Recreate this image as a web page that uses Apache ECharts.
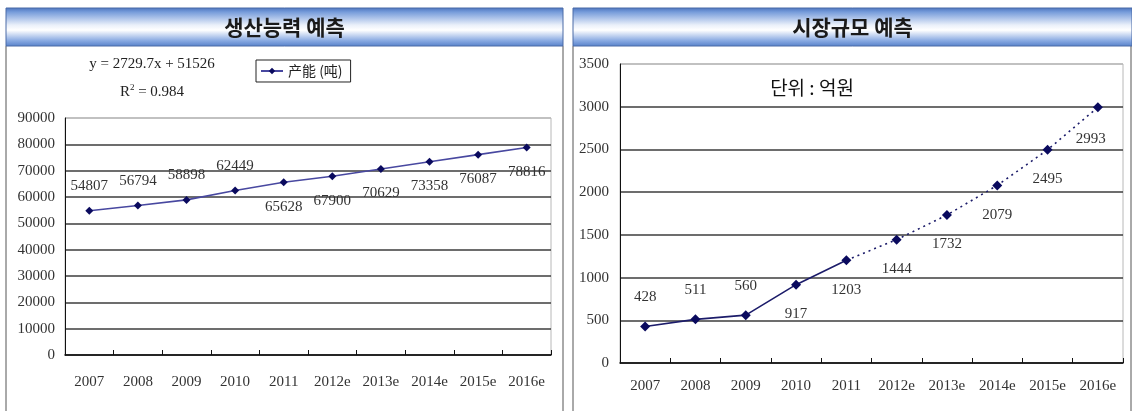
<!DOCTYPE html>
<html>
<head>
<meta charset="utf-8">
<script src="https://cdn.jsdelivr.net/npm/echarts@6/dist/echarts.min.js"></script>
<style>
  html, body { margin: 0; padding: 0; background: #ffffff; }
  #chart { width: 1132px; height: 411px; }
</style>
</head>
<body>
<div id="chart"></div>
<script>
// Years shown on both horizontal axes (e = estimate)
const years = ['2007', '2008', '2009', '2010', '2011', '2012e', '2013e', '2014e', '2015e', '2016e'];

// Production capacity (tons)
const capacityName = '产能 (吨)';
const capacityValues = [54807, 56794, 58898, 62449, 65628, 67900, 70629, 73358, 76087, 78816];

// Market size (100 million won)
const marketValues = [428, 511, 560, 917, 1203, 1444, 1732, 2079, 2495, 2993];
const marketActualCount = 5; // 2007–2011 are actual figures, the rest are forecasts

// Panel headings and notes
const leftTitle = '생산능력 예측';
const rightTitle = '시장규모 예측';
const trendEquation = 'y = 2729.7x + 51526';
const trendR2 = '0.984';
const unitNote = '단위 : 억원';

const numFont = '"Liberation Sans Narrow", "Liberation Serif", serif';
const krFont = '"Noto Sans CJK KR", "Noto Sans", sans-serif';

const chart = echarts.init(document.getElementById('chart'), null, { renderer: 'canvas' });

const headerGradient = new echarts.graphic.LinearGradient(0, 0, 0, 1, [
  { offset: 0, color: '#4a73be' },
  { offset: 0.12, color: '#789ddb' },
  { offset: 0.45, color: '#eaf0fa' },
  { offset: 0.58, color: '#ffffff' },
  { offset: 0.85, color: '#89aae2' },
  { offset: 1, color: '#5580c9' }
]);

function header(x, w, text) {
  return [
    {
      type: 'rect',
      shape: { x: x, y: 8, width: w, height: 38 },
      style: { fill: headerGradient, stroke: '#4a6aa6', lineWidth: 1 },
      z: 1
    },
    {
      type: 'text',
      x: x + w / 2,
      y: 27,
      style: {
        text: text, font: 'bold 21px ' + krFont, fill: '#1a1a1a',
        align: 'center', verticalAlign: 'middle'
      },
      z: 2
    }
  ];
}

function frame(x1, x2) {
  return [
    { type: 'line', shape: { x1: x1, y1: 46, x2: x1, y2: 411 }, style: { stroke: '#555', lineWidth: 1 } },
    { type: 'line', shape: { x1: x2, y1: 46, x2: x2, y2: 411 }, style: { stroke: '#555', lineWidth: 1 } }
  ];
}

function splitColors(n) {
  const arr = [];
  for (let i = 0; i < n; i++) arr.push('#3c3c3c');
  arr.push('#b8b8b8');
  return arr;
}

const plainNumber = function (v) { return String(v); };

const labelText = {
  fontFamily: numFont, fontSize: 15, color: '#333'
};

const option = {
  animation: false,
  backgroundColor: '#ffffff',
  textStyle: { fontFamily: numFont },
  grid: [
    { left: 65, top: 118, width: 486, height: 237, show: true, borderColor: '#b8b8b8', borderWidth: 1, backgroundColor: 'transparent' },
    { left: 620, top: 64, width: 503, height: 299, show: true, borderColor: '#b8b8b8', borderWidth: 1, backgroundColor: 'transparent' }
  ],
  legend: {
    data: [capacityName],
    left: 256,
    top: 60,
    padding: [4, 8, 4, 4],
    borderColor: '#222',
    borderWidth: 1,
    itemWidth: 22,
    itemHeight: 8,
    itemGap: 4,
    textStyle: { fontFamily: '"Noto Sans CJK SC", sans-serif', fontSize: 14, color: '#222' }
  },
  xAxis: [0, 1].map(function (g) {
    return {
      type: 'category',
      gridIndex: g,
      data: years,
      boundaryGap: true,
      axisLine: { lineStyle: { color: '#111', width: 1.5 } },
      axisTick: { show: true, inside: true, length: 5, lineStyle: { color: '#111' } },
      axisLabel: { fontFamily: numFont, fontSize: 15, color: '#333', margin: g === 0 ? 20 : 16 },
      splitLine: { show: false }
    };
  }),
  yAxis: [
    {
      type: 'value', gridIndex: 0, min: 0, max: 90000, interval: 10000,
      axisLine: { show: true, lineStyle: { color: '#111', width: 1 } },
      axisTick: { show: false },
      axisLabel: { fontFamily: numFont, fontSize: 15, color: '#333', margin: 10, formatter: plainNumber },
      splitLine: { lineStyle: { color: splitColors(9), width: 1.6 } }
    },
    {
      type: 'value', gridIndex: 1, min: 0, max: 3500, interval: 500,
      axisLine: { show: true, lineStyle: { color: '#111', width: 1 } },
      axisTick: { show: false },
      axisLabel: { fontFamily: numFont, fontSize: 15, color: '#333', margin: 11, formatter: plainNumber },
      splitLine: { lineStyle: { color: splitColors(7), width: 1.6 } }
    }
  ],
  series: [
    {
      name: capacityName,
      type: 'line',
      xAxisIndex: 0,
      yAxisIndex: 0,
      symbol: 'diamond',
      symbolSize: 8,
      lineStyle: { color: '#4848a0', width: 1.6 },
      itemStyle: { color: '#0a0a5e' },
      data: capacityValues.map(function (v, i) {
        return { value: v, label: { position: i < 4 ? 'top' : 'bottom' } };
      }),
      label: Object.assign({ show: true, distance: 13 }, labelText),
      z: 5
    },
    {
      name: '시장규모',
      type: 'line',
      xAxisIndex: 1,
      yAxisIndex: 1,
      symbol: 'diamond',
      symbolSize: 10,
      lineStyle: { color: '#1c1c6a', width: 1.6 },
      itemStyle: { color: '#0a0a5e' },
      data: marketValues.map(function (v, i) {
        return i < marketActualCount
          ? { value: v, label: { position: i < 3 ? 'top' : 'bottom' } }
          : null;
      }),
      label: Object.assign({ show: true, distance: 17 }, labelText),
      z: 5
    },
    {
      name: '시장규모 전망',
      type: 'line',
      xAxisIndex: 1,
      yAxisIndex: 1,
      symbol: 'diamond',
      symbolSize: 10,
      lineStyle: { color: '#1c1c6a', width: 1.6, type: [2, 4] },
      itemStyle: { color: '#0a0a5e' },
      data: marketValues.map(function (v, i) {
        if (i < marketActualCount - 1) return null;
        if (i === marketActualCount - 1) return { value: v, symbol: 'none', label: { show: false } };
        return {
          value: v,
          label: { position: 'bottom', offset: i === marketValues.length - 1 ? [-7, 2] : [0, 0] }
        };
      }),
      label: Object.assign({ show: true, distance: 17 }, labelText),
      z: 4
    }
  ],
  graphic: [].concat(
    frame(6, 563),
    frame(573, 1131),
    header(6, 557, leftTitle),
    header(573, 559, rightTitle),
    [
      {
        type: 'text', x: 152, y: 64,
        style: { text: trendEquation, font: '15px ' + numFont, fill: '#222', align: 'center', verticalAlign: 'middle' }
      },
      {
        type: 'text', x: 152, y: 92,
        style: {
          text: 'R{sup|2} = ' + trendR2,
          font: '15px ' + numFont, fill: '#222', align: 'center', verticalAlign: 'middle',
          rich: { sup: { fontSize: 9, fontFamily: numFont, verticalAlign: 'top', padding: [0, 0, 8, 0] } }
        }
      },
      {
        type: 'text', x: 812, y: 88,
        style: { text: unitNote, font: '19px ' + krFont, fill: '#111', align: 'center', verticalAlign: 'middle' }
      }
    ]
  )
};

chart.setOption(option);
</script>
</body>
</html>
